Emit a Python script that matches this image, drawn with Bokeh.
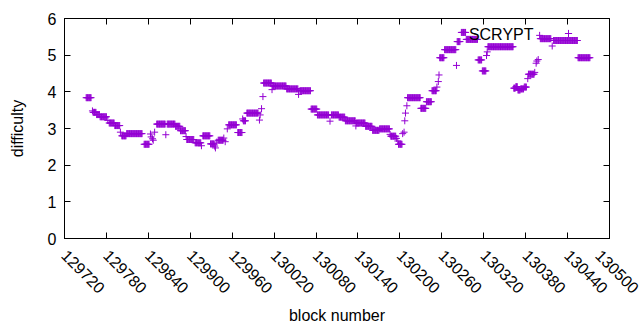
import numpy as np
from math import pi
from bokeh.plotting import figure
from bokeh.models import (FixedTicker, LinearAxis, Label, Legend, LegendItem,
                          NumeralTickFormatter, CustomLabelingPolicy)
from bokeh.embed import file_html
from bokeh.resources import INLINE

# Run-length encoded block difficulties: consecutive blocks [start..end] share a value
run_start = [129751, 129760, 129761, 129766, 129771, 129782, 129784, 129792, 129800, 129802,
             129809, 129834, 129843, 129844, 129846, 129847, 129849, 129852, 129865, 129867,
             129879, 129886, 129894, 129895, 129907, 129916, 129918, 129929, 129935, 129936,
             129938, 129940, 129948, 129950, 129953, 129955, 129968, 129975, 129976, 129981,
             129999, 130000, 130002, 130004, 130005, 130017, 130018, 130038, 130055, 130057,
             130073, 130082, 130100, 130102, 130113, 130122, 130137, 130138, 130151, 130161,
             130171, 130186, 130187, 130195, 130197, 130198, 130204, 130206, 130207, 130208,
             130210, 130211, 130230, 130238, 130246, 130253, 130255, 130256, 130257, 130264,
             130281, 130282, 130288, 130295, 130312, 130318, 130324, 130325, 130326, 130363,
             130366, 130369, 130373, 130378, 130383, 130384, 130393, 130395, 130396, 130398,
             130400, 130401, 130418, 130420, 130455]
run_end = [129758, 129760, 129765, 129770, 129780, 129782, 129791, 129799, 129800, 129808,
           129831, 129841, 129843, 129844, 129846, 129847, 129849, 129864, 129865, 129878,
           129885, 129893, 129894, 129905, 129915, 129916, 129928, 129934, 129935, 129936,
           129938, 129947, 129948, 129950, 129953, 129966, 129974, 129975, 129979, 129997,
           129999, 130000, 130002, 130004, 130016, 130017, 130037, 130054, 130055, 130072,
           130081, 130098, 130100, 130112, 130121, 130136, 130137, 130150, 130160, 130170,
           130185, 130186, 130194, 130195, 130197, 130203, 130204, 130206, 130207, 130208,
           130210, 130229, 130237, 130245, 130252, 130253, 130255, 130256, 130263, 130280,
           130281, 130286, 130294, 130311, 130317, 130323, 130324, 130325, 130362, 130365,
           130368, 130372, 130377, 130381, 130383, 130392, 130393, 130395, 130396, 130398,
           130400, 130416, 130418, 130454, 130472]
run_value = [3.84, 3.48, 3.44, 3.38, 3.32, 3.22, 3.15, 3.08, 2.90, 2.80,
             2.86, 2.57, 2.85, 2.77, 2.72, 2.68, 2.90, 3.12, 2.83, 3.12,
             3.06, 2.94, 2.78, 2.70, 2.61, 2.53, 2.80, 2.58, 2.52, 2.47,
             2.63, 2.68, 2.74, 2.64, 2.99, 3.10, 2.89, 3.26, 3.21, 3.42,
             3.23, 3.37, 3.54, 3.87, 4.24, 4.06, 4.16, 4.08, 3.93, 4.03,
             3.53, 3.37, 3.20, 3.37, 3.31, 3.21, 3.07, 3.15, 3.06, 2.95,
             2.99, 2.84, 2.79, 2.73, 2.66, 2.57, 2.86, 2.90, 3.21, 3.42,
             3.62, 3.84, 3.55, 3.73, 4.03, 4.13, 4.28, 4.46, 4.93, 5.15,
             4.72, 5.37, 5.62, 5.43, 4.87, 4.57, 4.99, 5.09, 5.23, 4.10,
             4.14, 4.05, 4.08, 4.13, 4.36, 4.48, 4.53, 4.78, 4.84, 4.88,
             5.54, 5.45, 5.25, 5.40, 4.93]

x_ticks = [129720, 129780, 129840, 129900, 129960, 130020, 130080,
           130140, 130200, 130260, 130320, 130380, 130440, 130500]
y_ticks = [0, 1, 2, 3, 4, 5, 6]
series_name = "SCRYPT"

blocks = np.concatenate([np.arange(s, e + 1) for s, e in zip(run_start, run_end)])
diffs = np.concatenate([np.full(e - s + 1, v) for s, e, v in zip(run_start, run_end, run_value)])

FONT = "Liberation Sans"
FS = "16px"
COLOR = "#9400d3"

p = figure(width=640, height=330, x_range=(x_ticks[0], x_ticks[-1]), y_range=(y_ticks[0], y_ticks[-1]),
           output_backend="svg", toolbar_location=None,
           min_border_left=64, min_border_right=31, min_border_top=18, min_border_bottom=92)
p.grid.visible = False
p.outline_line_color = "black"
p.outline_line_width = 1
p.background_fill_color = "white"
p.border_fill_color = "white"

r = p.scatter(blocks, diffs, marker="cross", size=7, line_color=COLOR, line_width=1)

xt = FixedTicker(ticks=x_ticks)
yt = FixedTicker(ticks=y_ticks)
fmt = NumeralTickFormatter(format="0")

for ax in list(p.xaxis) + list(p.yaxis):
    ax.major_tick_in = 6
    ax.major_tick_out = 0
    ax.minor_tick_line_color = None
    ax.axis_line_color = "black"
    ax.major_tick_line_color = "black"
    ax.major_label_text_font = FONT
    ax.major_label_text_font_size = FS
    ax.major_label_text_color = "black"
    ax.axis_label_text_font = FONT
    ax.axis_label_text_font_size = FS
    ax.axis_label_text_font_style = "normal"
    ax.axis_label_text_color = "black"

for ax in p.xaxis:
    ax.ticker = xt
    ax.formatter = fmt
    ax.major_label_orientation = -pi / 4
    ax.major_label_standoff = 14
    ax.axis_label = "block number"
    ax.axis_label_standoff = 5
for ax in p.yaxis:
    ax.ticker = yt
    ax.formatter = fmt
    ax.major_label_standoff = 8
    ax.axis_label = "difficulty"
    ax.axis_label_standoff = 19

no_labels = CustomLabelingPolicy(code="return new Set()")
top = LinearAxis(ticker=xt, major_tick_in=6, major_tick_out=0, minor_tick_line_color=None,
                 axis_line_color=None, major_label_text_font_size="2px", major_label_standoff=0,
                 major_label_policy=no_labels)
right = LinearAxis(ticker=yt, major_tick_in=6, major_tick_out=0, minor_tick_line_color=None,
                   axis_line_color=None, major_label_text_font_size="2px", major_label_standoff=0,
                   major_label_policy=no_labels)
p.add_layout(top, "above")
p.add_layout(right, "right")

legend = Legend(items=[LegendItem(label=" ", renderers=[r])], location=(495, 196),
                padding=0, margin=0, spacing=0, glyph_width=18, glyph_height=18,
                label_width=0, label_standoff=0, label_text_font_size="12px",
                background_fill_alpha=0, border_line_alpha=0)
p.add_layout(legend)

p.add_layout(Label(x=469, y=204, x_units="screen", y_units="screen", text=series_name,
                   text_align="right", text_baseline="middle", text_font=FONT,
                   text_font_size=FS, text_color="black"))

open("out.html", "w").write(file_html(p, INLINE))
